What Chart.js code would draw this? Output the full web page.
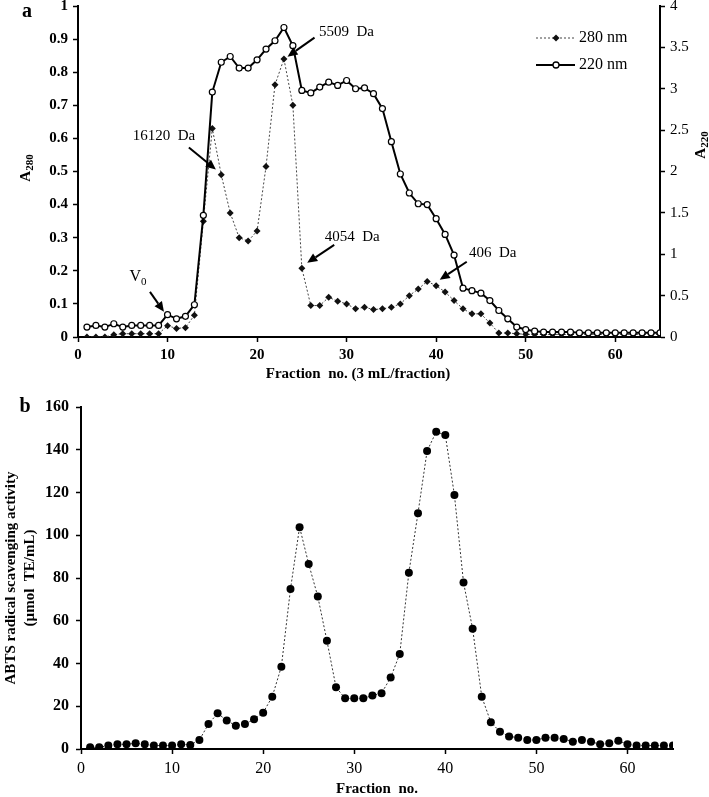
<!DOCTYPE html>
<html>
<head>
<meta charset="utf-8">
<script src="https://cdn.jsdelivr.net/npm/chart.js@4.4.1/dist/chart.umd.min.js"></script>
<style>
html, body { margin: 0; padding: 0; background: #fff; }
.wrap { position: absolute; left: 0; }
</style>
</head>
<body>
<div class="wrap" style="top:0"><canvas id="chartA" width="709" height="390"></canvas></div>
<div class="wrap" style="top:390px"><canvas id="chartB" width="709" height="407"></canvas></div>
<script>
// fraction numbers
var fractions = [1, 2, 3, 4, 5, 6, 7, 8, 9, 10, 11, 12, 13, 14, 15, 16, 17, 18, 19, 20,
	21, 22, 23, 24, 25, 26, 27, 28, 29, 30, 31, 32, 33, 34, 35, 36, 37, 38, 39, 40,
	41, 42, 43, 44, 45, 46, 47, 48, 49, 50, 51, 52, 53, 54, 55, 56, 57, 58, 59, 60,
	61, 62, 63, 64, 65];

// panel a, A280 (left axis)
var a280 = [0, 0, 0, 0.007, 0.01, 0.01, 0.01, 0.01, 0.01, 0.034,
	0.026, 0.028, 0.066, 0.35, 0.63, 0.49, 0.375, 0.30, 0.29, 0.32,
	0.515, 0.762, 0.84, 0.70, 0.208, 0.095, 0.095, 0.12, 0.108, 0.10,
	0.085, 0.09, 0.083, 0.085, 0.09, 0.10, 0.125, 0.145, 0.168, 0.155,
	0.136, 0.11, 0.085, 0.07, 0.07, 0.042, 0.012, 0.012, 0.01, 0.008,
	0.008, 0.008, 0.008, 0.008, 0.008, 0.008, 0.008, 0.008, 0.008, 0.008,
	0.008, 0.008, 0.008, 0.008, 0.008];

// panel a, A220 (right axis)
var a220 = [0.12, 0.14, 0.12, 0.16, 0.12, 0.14, 0.14, 0.14, 0.14, 0.27,
	0.22, 0.25, 0.39, 1.47, 2.96, 3.32, 3.39, 3.25, 3.25, 3.35,
	3.48, 3.58, 3.74, 3.52, 2.98, 2.95, 3.02, 3.08, 3.04, 3.10,
	3.00, 3.01, 2.94, 2.76, 2.36, 1.97, 1.74, 1.61, 1.60, 1.43,
	1.24, 0.99, 0.59, 0.56, 0.53, 0.44, 0.32, 0.22, 0.12, 0.09,
	0.07, 0.06, 0.06, 0.06, 0.06, 0.05, 0.05, 0.05, 0.05, 0.05,
	0.05, 0.05, 0.05, 0.05, 0.05];

// panel b, ABTS activity
var abts = [0.8, 0.8, 1.6, 2.2, 2.2, 2.7, 2.2, 1.6, 1.6, 1.6,
	2.2, 1.9, 4.2, 11.7, 16.7, 13.3, 10.9, 11.7, 13.9, 17.0,
	24.5, 38.5, 74.8, 103.8, 86.6, 71.3, 50.7, 28.9, 23.7, 23.7,
	23.7, 25.0, 26.1, 33.4, 44.5, 82.5, 110.3, 139.4, 148.4, 146.9,
	118.8, 77.9, 56.2, 24.5, 12.5, 8.1, 5.9, 5.3, 4.2, 4.2,
	5.3, 5.3, 4.7, 3.4, 4.2, 3.4, 2.2, 2.7, 3.9, 2.2,
	1.6, 1.6, 1.6, 1.6, 1.6];

// arrow labels on panel a, tip given in data units (fraction, A280)
var markLabels = ['V', '16120  Da', '5509  Da', '4054  Da', '406  Da'];
var markX = [9.6, 15.4, 23.4, 25.6, 40.4];
var markY = [0.076, 0.506, 0.847, 0.224, 0.173];

var serif = '"Liberation Serif", "Times New Roman", serif';

function pts(ys) {
	var out = [];
	for (var i = 0; i < fractions.length; i++) {
		out.push({ x: fractions[i], y: ys[i] });
	}
	return out;
}

function tidy(v) {
	return String(+(+v).toFixed(2));
}

function onlyTens(axis) {
	axis.ticks = axis.ticks.filter(function (t) { return t.value % 10 === 0; });
}

function subText(ctx, x, y, base, sub, size, bold, rotate) {
	var w = bold ? 'bold ' : '';
	var small = Math.round(size * 0.7);
	ctx.save();
	ctx.translate(x, y);
	if (rotate) ctx.rotate(-Math.PI / 2);
	ctx.fillStyle = '#000';
	ctx.textBaseline = 'middle';
	ctx.textAlign = 'left';
	ctx.font = w + size + 'px ' + serif;
	var bw = ctx.measureText(base).width;
	ctx.font = w + small + 'px ' + serif;
	var sw = ctx.measureText(sub).width;
	var left = -(bw + sw) / 2;
	ctx.font = w + size + 'px ' + serif;
	ctx.fillText(base, left, 0);
	ctx.font = w + small + 'px ' + serif;
	ctx.fillText(sub, left + bw, size * 0.3);
	ctx.restore();
}

function arrow(ctx, x1, y1, x2, y2) {
	var a = Math.atan2(y2 - y1, x2 - x1);
	var head = 10, hw = 4.5;
	var c = Math.cos(a), s = Math.sin(a);
	ctx.save();
	ctx.strokeStyle = '#000';
	ctx.fillStyle = '#000';
	ctx.lineWidth = 2;
	ctx.beginPath();
	ctx.moveTo(x1, y1);
	ctx.lineTo(x2 - head * c, y2 - head * s);
	ctx.stroke();
	ctx.beginPath();
	ctx.moveTo(x2, y2);
	ctx.lineTo(x2 - head * c + hw * s, y2 - head * s - hw * c);
	ctx.lineTo(x2 - head * c - hw * s, y2 - head * s + hw * c);
	ctx.closePath();
	ctx.fill();
	ctx.restore();
}

// pixel offsets of arrow tails and label centres from the arrow tips
var markTail = [[-14, -20], [-27, -22], [27, -19], [27, -18], [27, -18]];
var markText = [[-26, -35], [-52, -33], [59, -25], [45, -26], [53, -27]];

var panelA = {
	id: 'panelA',
	afterDraw: function (chart) {
		var ctx = chart.ctx;
		var xs = chart.scales.x, ys = chart.scales.y;
		ctx.save();
		ctx.fillStyle = '#000';
		ctx.textBaseline = 'middle';
		ctx.textAlign = 'center';
		ctx.font = 'bold 20px ' + serif;
		ctx.fillText('a', 27, 12);
		ctx.font = 'bold 15px ' + serif;
		ctx.fillText('Fraction  no. (3 mL/fraction)', 358, 374);
		ctx.restore();
		subText(ctx, 26, 168, 'A', '280', 15, true, true);
		subText(ctx, 701, 145, 'A', '220', 15, true, true);

		for (var i = 0; i < markLabels.length; i++) {
			var tx = xs.getPixelForValue(markX[i]);
			var ty = ys.getPixelForValue(markY[i]);
			arrow(ctx, tx + markTail[i][0], ty + markTail[i][1], tx, ty);
			if (markLabels[i] === 'V') {
				subText(ctx, tx + markText[i][0], ty + markText[i][1], 'V', '0', 16, false, false);
			} else {
				ctx.save();
				ctx.fillStyle = '#000';
				ctx.font = '15px ' + serif;
				ctx.textAlign = 'center';
				ctx.textBaseline = 'middle';
				ctx.fillText(markLabels[i], tx + markText[i][0], ty + markText[i][1]);
				ctx.restore();
			}
		}

		// legend
		ctx.save();
		ctx.strokeStyle = '#444';
		ctx.lineWidth = 1;
		ctx.setLineDash([2, 2]);
		ctx.beginPath(); ctx.moveTo(536, 38); ctx.lineTo(575, 38); ctx.stroke();
		ctx.setLineDash([]);
		ctx.fillStyle = '#111';
		ctx.beginPath();
		ctx.moveTo(556, 34.5); ctx.lineTo(559.5, 38); ctx.lineTo(556, 41.5); ctx.lineTo(552.5, 38);
		ctx.closePath(); ctx.fill();
		ctx.strokeStyle = '#000';
		ctx.lineWidth = 2;
		ctx.beginPath(); ctx.moveTo(536, 65); ctx.lineTo(575, 65); ctx.stroke();
		ctx.lineWidth = 1.3;
		ctx.fillStyle = '#fff';
		ctx.beginPath(); ctx.arc(556, 65, 3, 0, Math.PI * 2); ctx.fill(); ctx.stroke();
		ctx.fillStyle = '#000';
		ctx.font = '16px ' + serif;
		ctx.textAlign = 'left';
		ctx.textBaseline = 'middle';
		ctx.fillText('280 nm', 579, 38);
		ctx.fillText('220 nm', 579, 65);
		ctx.restore();
	}
};

var panelB = {
	id: 'panelB',
	afterDraw: function (chart) {
		var ctx = chart.ctx;
		ctx.save();
		ctx.fillStyle = '#000';
		ctx.textBaseline = 'middle';
		ctx.textAlign = 'center';
		ctx.font = 'bold 20px ' + serif;
		ctx.fillText('b', 25, 17);
		ctx.font = 'bold 15px ' + serif;
		ctx.fillText('Fraction  no.', 377, 399);
		ctx.translate(0, 188);
		ctx.rotate(-Math.PI / 2);
		ctx.fillText('ABTS radical scavenging activity', 0, 11);
		ctx.fillText('(\u00b5mol  TE/mL)', 0, 30);
		ctx.restore();
	}
};

function axisGrid() {
	return { drawOnChartArea: false, tickLength: 5, tickColor: '#000', tickWidth: 1.5, color: '#000' };
}

var chartA = new Chart(document.getElementById('chartA'), {
	type: 'line',
	data: {
		datasets: [{
			label: '280 nm',
			data: pts(a280),
			yAxisID: 'y',
			order: 1,
			borderColor: '#444',
			borderWidth: 1,
			borderDash: [2, 2],
			pointStyle: 'rectRot',
			pointRadius: 3.5,
			pointBackgroundColor: '#111',
			pointBorderColor: '#111',
			pointBorderWidth: 0
		}, {
			label: '220 nm',
			data: pts(a220),
			yAxisID: 'y2',
			order: 0,
			borderColor: '#000',
			borderWidth: 2,
			pointStyle: 'circle',
			pointRadius: 3,
			pointBackgroundColor: '#fff',
			pointBorderColor: '#000',
			pointBorderWidth: 1.2
		}]
	},
	options: {
		responsive: false,
		animation: false,
		layout: { padding: { top: 6, left: 0, right: 0, bottom: 0 } },
		plugins: { legend: { display: false }, tooltip: { enabled: false } },
		scales: {
			x: {
				type: 'linear',
				min: 0,
				max: 65,
				afterBuildTicks: onlyTens,
				afterFit: function (s) { s.height = 53; s.paddingLeft = 0; s.paddingRight = 0; },
				ticks: { stepSize: 10, color: '#000', padding: 4, maxRotation: 0, font: { family: serif, size: 15, weight: 'bold' } },
				grid: axisGrid(),
				border: { color: '#000', width: 2 }
			},
			y: {
				position: 'left',
				min: 0,
				max: 1,
				afterFit: function (s) { s.width = 78; s.paddingTop = 0; s.paddingBottom = 0; },
				ticks: { stepSize: 0.1, color: '#000', padding: 5, callback: tidy, font: { family: serif, size: 15, weight: 'bold' } },
				grid: axisGrid(),
				border: { color: '#000', width: 2 }
			},
			y2: {
				position: 'right',
				min: 0,
				max: 4,
				afterFit: function (s) { s.width = 49; s.paddingTop = 0; s.paddingBottom = 0; },
				ticks: { stepSize: 0.5, color: '#000', padding: 5, callback: tidy, font: { family: serif, size: 15 } },
				grid: axisGrid(),
				border: { color: '#000', width: 2 }
			}
		}
	},
	plugins: [panelA]
});

var chartB = new Chart(document.getElementById('chartB'), {
	type: 'line',
	data: {
		datasets: [{
			label: 'ABTS',
			data: pts(abts),
			borderColor: '#333',
			borderWidth: 1,
			borderDash: [2, 2],
			pointStyle: 'circle',
			pointRadius: 4,
			pointBackgroundColor: '#000',
			pointBorderColor: '#000',
			pointBorderWidth: 0
		}]
	},
	options: {
		responsive: false,
		animation: false,
		layout: { padding: { top: 17, left: 0, right: 36, bottom: 0 } },
		plugins: { legend: { display: false }, tooltip: { enabled: false } },
		scales: {
			x: {
				type: 'linear',
				min: 0,
				max: 65,
				afterBuildTicks: onlyTens,
				afterFit: function (s) { s.height = 48; s.paddingLeft = 0; s.paddingRight = 0; },
				ticks: { stepSize: 10, color: '#000', padding: 5, maxRotation: 0, font: { family: serif, size: 16 } },
				grid: axisGrid(),
				border: { color: '#000', width: 2 }
			},
			y: {
				position: 'left',
				min: 0,
				max: 160,
				afterFit: function (s) { s.width = 81; s.paddingTop = 0; s.paddingBottom = 0; },
				ticks: { stepSize: 20, color: '#000', padding: 7, font: { family: serif, size: 16, weight: 'bold' } },
				grid: axisGrid(),
				border: { color: '#000', width: 2 }
			}
		}
	},
	plugins: [panelB]
});
</script>
</body>
</html>
